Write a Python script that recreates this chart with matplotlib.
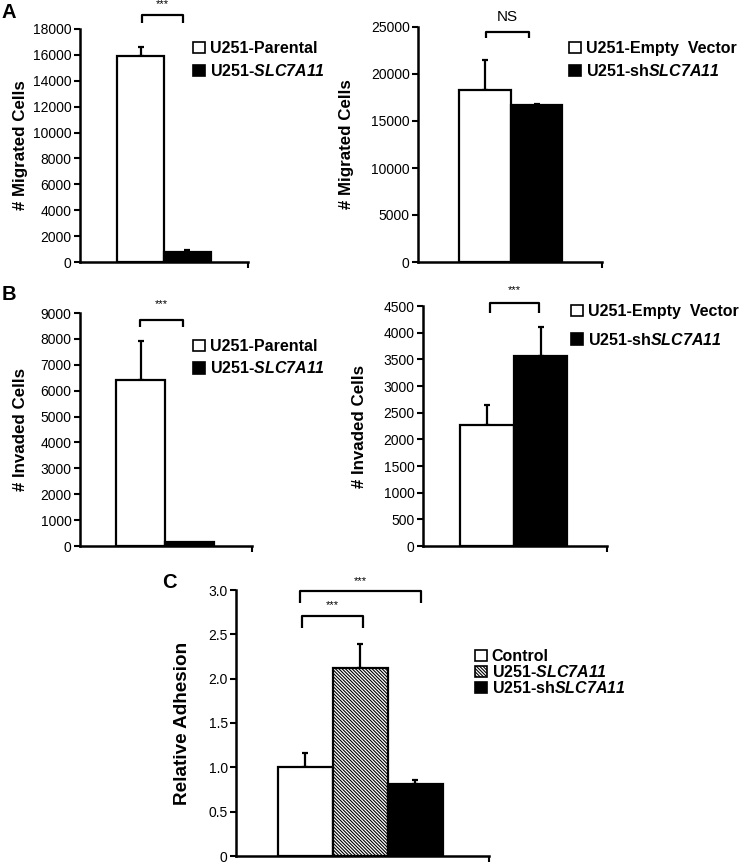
import matplotlib
matplotlib.use("Agg")
import matplotlib.pyplot as plt
from matplotlib.patches import Patch

plt.rcParams["font.family"] = ["Liberation Sans", "DejaVu Sans"]
plt.rcParams["mathtext.fontset"] = "custom"
# only the gene name sits inside $...$, so make every math glyph bold italic
plt.rcParams["mathtext.it"] = "Liberation Sans:bold:italic"
plt.rcParams["mathtext.rm"] = "Liberation Sans:bold:italic"
plt.rcParams["hatch.linewidth"] = 0.8

# ---- data ----
A_MIG_LABELS = ["U251-Parental", "U251-$\\mathit{SLC7A11}$"]
A_MIG_VALUES = [15950, 750]
A_MIG_ERR = [650, 150]
A_MIG_TICKS = [0, 2000, 4000, 6000, 8000, 10000, 12000, 14000, 16000, 18000]

A_SH_LABELS = ["U251-Empty  Vector", "U251-sh$\\mathit{SLC7A11}$"]
A_SH_VALUES = [18300, 16700]
A_SH_ERR = [3200, 150]
A_SH_TICKS = [0, 5000, 10000, 15000, 20000, 25000]

B_INV_LABELS = ["U251-Parental", "U251-$\\mathit{SLC7A11}$"]
B_INV_VALUES = [6400, 170]
B_INV_ERR = [1500, 0]
B_INV_TICKS = [0, 1000, 2000, 3000, 4000, 5000, 6000, 7000, 8000, 9000]

B_SH_LABELS = ["U251-Empty  Vector", "U251-sh$\\mathit{SLC7A11}$"]
B_SH_VALUES = [2270, 3560]
B_SH_ERR = [370, 550]
B_SH_TICKS = [0, 500, 1000, 1500, 2000, 2500, 3000, 3500, 4000, 4500]

C_LABELS = ["Control", "U251-$\\mathit{SLC7A11}$", "U251-sh$\\mathit{SLC7A11}$"]
C_VALUES = [1.0, 2.12, 0.81]
C_ERR = [0.16, 0.27, 0.05]
C_TICKS = [0, 0.5, 1.0, 1.5, 2.0, 2.5, 3.0]
C_TICK_LABELS = ["0", "0.5", "1.0", "1.5", "2.0", "2.5", "3.0"]

FIG_W, FIG_H = 750, 865


def px_axes(fig, x0, x1, ytop, ybot):
    return fig.add_axes([x0 / FIG_W, 1 - ybot / FIG_H,
                         (x1 - x0) / FIG_W, (ybot - ytop) / FIG_H])


def bar_panel(ax, values, errs, styles, ticks, ticklabels, xlim, ylabel,
              label_x, label_size=12.2):
    for x, (v, e, (fc, hatch)) in enumerate(zip(values, errs, styles)):
        ax.bar(x, v, width=1.0, color=fc, edgecolor="black", linewidth=1.6,
               hatch=hatch, zorder=2)
        if e > 0:
            ax.errorbar(x, v, yerr=[[0], [e]], fmt="none", ecolor="black",
                        elinewidth=1.6, capsize=2.5, capthick=1.6, zorder=1)
    ax.set_xlim(*xlim)
    ax.set_ylim(ticks[0], ticks[-1])
    ax.set_yticks(ticks)
    ax.set_yticklabels(ticklabels, fontsize=10)
    ax.set_xticks([xlim[1]])
    ax.set_xticklabels([""])
    ax.tick_params(axis="both", direction="out", length=4, width=1.5, pad=2)
    for s in ("top", "right"):
        ax.spines[s].set_visible(False)
    for s in ("left", "bottom"):
        ax.spines[s].set_linewidth(1.8)
    ax.set_ylabel(ylabel, fontsize=label_size, fontweight="bold")
    ax.yaxis.set_label_coords(label_x, 0.5)


def bracket(ax, x0, x1, y, leg, text, ty, size=8):
    ax.plot([x0, x0, x1, x1], [leg, y, y, leg], color="black", lw=1.6,
            clip_on=False, solid_capstyle="butt")
    ax.text((x0 + x1) / 2, ty, text, ha="center", va="center", fontsize=size,
            clip_on=False)


def legend(ax, labels, styles, x, y, spacing):
    handles = [Patch(facecolor=fc, edgecolor="black", hatch=h, linewidth=1.2)
               for fc, h in styles]
    ax.legend(handles, labels, loc="upper left",
              bbox_to_anchor=(x / FIG_W, 1 - y / FIG_H),
              bbox_transform=ax.figure.transFigure, frameon=False,
              borderpad=0, borderaxespad=0, handlelength=0.75, handleheight=0.75,
              handletextpad=0.3, labelspacing=spacing,
              prop={"weight": "bold", "size": 11.5})


two = [("white", None), ("black", None)]
three = [("white", None), ("white", "\\" * 10), ("black", None)]

fig = plt.figure(figsize=(FIG_W / 100, FIG_H / 100), dpi=100)

# Panel A left
ax = px_axes(fig, 80, 248, 29, 262)
bar_panel(ax, A_MIG_VALUES, A_MIG_ERR, two, A_MIG_TICKS,
          [str(t) for t in A_MIG_TICKS], (-1.29, 2.29), "# Migrated Cells", -0.31)
bracket(ax, 0.03, 0.9, 19080, 18460, "***", 19900)
legend(ax, A_MIG_LABELS, two, 193, 41, 0.45)
fig.text(2 / FIG_W, 1 - 12 / FIG_H, "A", fontsize=14.5, fontweight="bold",
         va="center", ha="left")

# Panel A right
ax = px_axes(fig, 418, 602, 27, 262)
bar_panel(ax, A_SH_VALUES, A_SH_ERR, two, A_SH_TICKS,
          [str(t) for t in A_SH_TICKS], (-1.28, 2.26), "# Migrated Cells", -0.35)
bracket(ax, 0.03, 0.86, 24470, 23830, "NS", 26100, size=11)
legend(ax, A_SH_LABELS, two, 569, 41, 0.45)

# Panel B left
ax = px_axes(fig, 80, 252, 313, 546)
bar_panel(ax, B_INV_VALUES, B_INV_ERR, two, B_INV_TICKS,
          [str(t) for t in B_INV_TICKS], (-1.245, 2.27), "# Invaded Cells", -0.305)
bracket(ax, -0.02, 0.86, 8730, 8460, "***", 9330)
legend(ax, B_INV_LABELS, two, 193, 339, 0.4)
fig.text(2 / FIG_W, 1 - 294 / FIG_H, "B", fontsize=14.5, fontweight="bold",
         va="center", ha="left")

# Panel B right
ax = px_axes(fig, 423, 607, 306, 546)
bar_panel(ax, B_SH_VALUES, B_SH_ERR, two, B_SH_TICKS,
          [str(t) for t in B_SH_TICKS], (-1.2, 2.24), "# Invaded Cells", -0.307)
bracket(ax, 0.06, 0.97, 4556, 4370, "***", 4800)
legend(ax, B_SH_LABELS, two, 571, 304, 0.8)

# Panel C
ax = px_axes(fig, 236, 489, 590, 856)
bar_panel(ax, C_VALUES, C_ERR, three, C_TICKS, C_TICK_LABELS,
          (-1.26, 3.34), "Relative Adhesion", -0.176, label_size=13.6)
bracket(ax, -0.1, 2.1, 2.99, 2.85, "***", 3.1)
bracket(ax, -0.06, 1.05, 2.71, 2.575, "***", 2.83)
legend(ax, C_LABELS, three, 475, 649, 0.0)
fig.text(162 / FIG_W, 1 - 583 / FIG_H, "C", fontsize=14.5, fontweight="bold",
         va="center", ha="left")

fig.savefig("out.png", dpi=100)
